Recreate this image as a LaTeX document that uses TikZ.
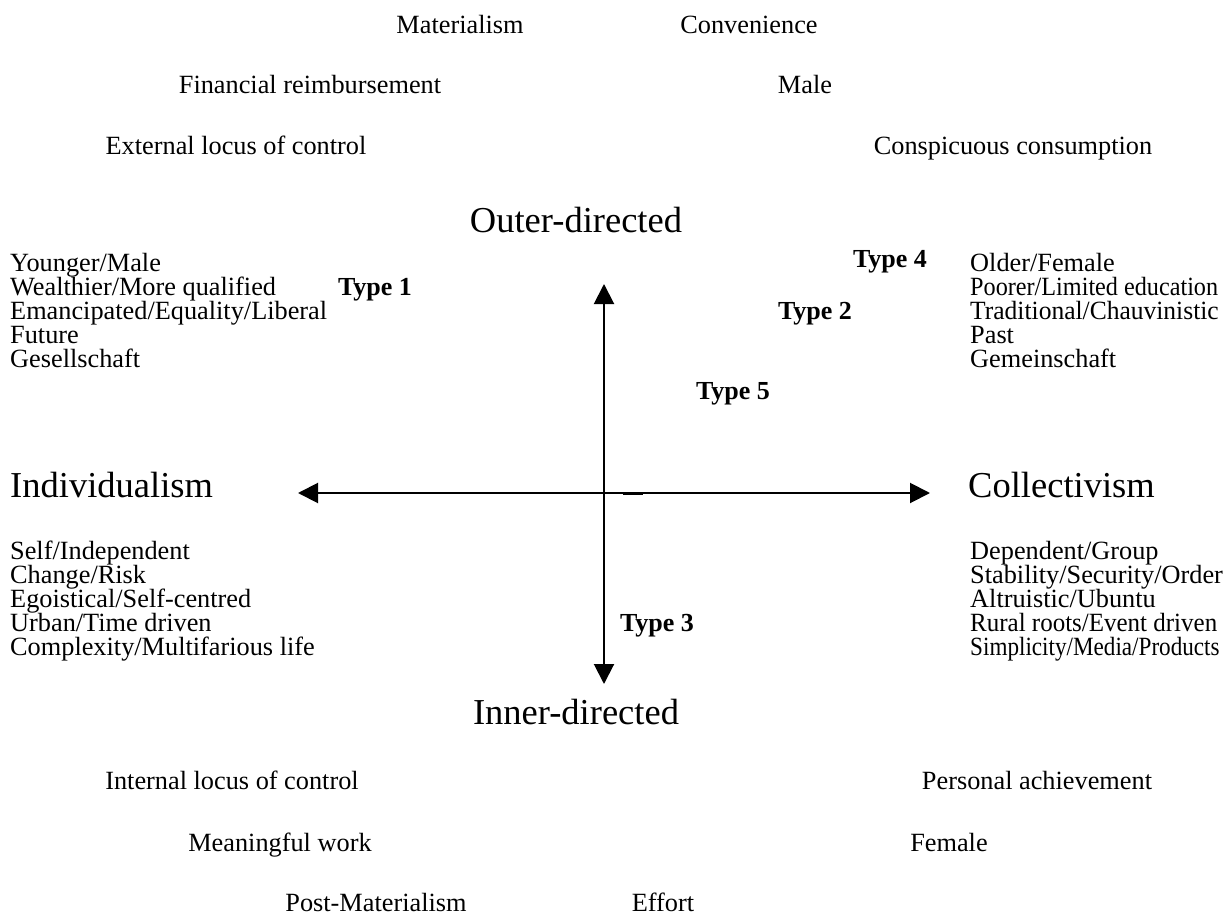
\documentclass[tikz,border=0pt]{standalone}
\usepackage{fontspec}
\setmainfont{Liberation Serif}
\usetikzlibrary{arrows.meta}
\tikzset{
  lbl/.style={inner sep=0pt, anchor=base, font=\fontsize{26.3}{30}\selectfont},
  lblw/.style={lbl, anchor=base west},
  typ/.style={lbl, font=\fontsize{26}{30}\selectfont\bfseries},
  axis/.style={inner sep=0pt, anchor=base, font=\fontsize{36.5}{40}\selectfont},
  axisw/.style={axis, anchor=base west},
  arr/.style={line width=2pt, {Triangle[length=20pt,width=20pt]}-{Triangle[length=20pt,width=20pt]}}
}
\begin{document}
\begin{tikzpicture}[x=1pt,y=-1pt]
\useasboundingbox (0,0) rectangle (1232,915);

% outer-directed attributes
\node[lbl] (mat)  at (460,34)  {Materialism};
\node[lbl] (conv) at (749,34)  {Convenience};
\node[lbl] (fin)  at (310,94)  {Financial reimbursement};
\node[lbl] (male) at (805,94)  {Male};
\node[lbl] (ext)  at (236,154) {External locus of control};
\node[lbl] (consp) at (1013,154) {Conspicuous consumption};

% axis labels
\node[axis] (outer) at (576,232) {Outer-directed};
\node[axis] (inner) at (576,724) {Inner-directed};
\node[axisw] (indiv) at (10,497) {Individualism};
\node[axisw] (coll) at (968,497) {Collectivism};

% upper left block
\node[lblw] (ul1) at (10,271) {Younger/Male};
\node[lblw] (ul2) at (10,295) {Wealthier/More qualified};
\node[lblw] (ul3) at (10,319) {Emancipated/Equality/Liberal};
\node[lblw] (ul4) at (10,343) {Future};
\node[lblw] (ul5) at (10,367) {Gesellschaft};

% upper right block
\node[lblw] (ur1) at (970,271) {Older/Female};
\node[lblw] (ur2) at (970,295) {\scalebox{0.92}[1]{Poorer/Limited education}};
\node[lblw] (ur3) at (970,319) {\scalebox{0.97}[1]{Traditional/Chauvinistic}};
\node[lblw] (ur4) at (970,343) {Past};
\node[lblw] (ur5) at (970,367) {Gemeinschaft};

% lower left block
\node[lblw] (ll1) at (10,559) {Self/Independent};
\node[lblw] (ll2) at (10,583) {Change/Risk};
\node[lblw] (ll3) at (10,607) {Egoistical/Self-centred};
\node[lblw] (ll4) at (10,631) {Urban/Time driven};
\node[lblw] (ll5) at (10,655) {Complexity/Multifarious life};

% lower right block
\node[lblw] (lr1) at (970,559) {Dependent/Group};
\node[lblw] (lr2) at (970,583) {Stability/Security/Order};
\node[lblw] (lr3) at (970,607) {Altruistic/Ubuntu};
\node[lblw] (lr4) at (970,631) {\scalebox{0.95}[1]{Rural roots/Event driven}};
\node[lblw] (lr5) at (970,655) {\scalebox{0.88}[1]{Simplicity/Media/Products}};

% types
\node[typ] (t1) at (375,295) {Type 1};
\node[typ] (t2) at (815,319) {Type 2};
\node[typ] (t3) at (657,631) {Type 3};
\node[typ] (t4) at (890,267) {Type 4};
\node[typ] (t5) at (733,399) {Type 5};

% inner-directed attributes
\node[lbl] (int)  at (232,789) {Internal locus of control};
\node[lbl] (pers) at (1037,789) {Personal achievement};
\node[lbl] (mean) at (280,851) {Meaningful work};
\node[lbl] (fem)  at (949,851) {Female};
\node[lbl] (post) at (376,911) {Post-Materialism};
\node[lbl] (eff)  at (663,911) {Effort};

% axes
\coordinate (hl) at (298,493);
\coordinate (hr) at (930,493);
\coordinate (vt) at (604,284);
\coordinate (vb) at (604,684);
\coordinate (sa) at (623,493);
\coordinate (sb) at (643,493);
\draw[arr] (hl) -- (hr);
\draw[arr] (vt) -- (vb);
\draw[line width=3pt] (sa) -- (sb);
\end{tikzpicture}
\end{document}
